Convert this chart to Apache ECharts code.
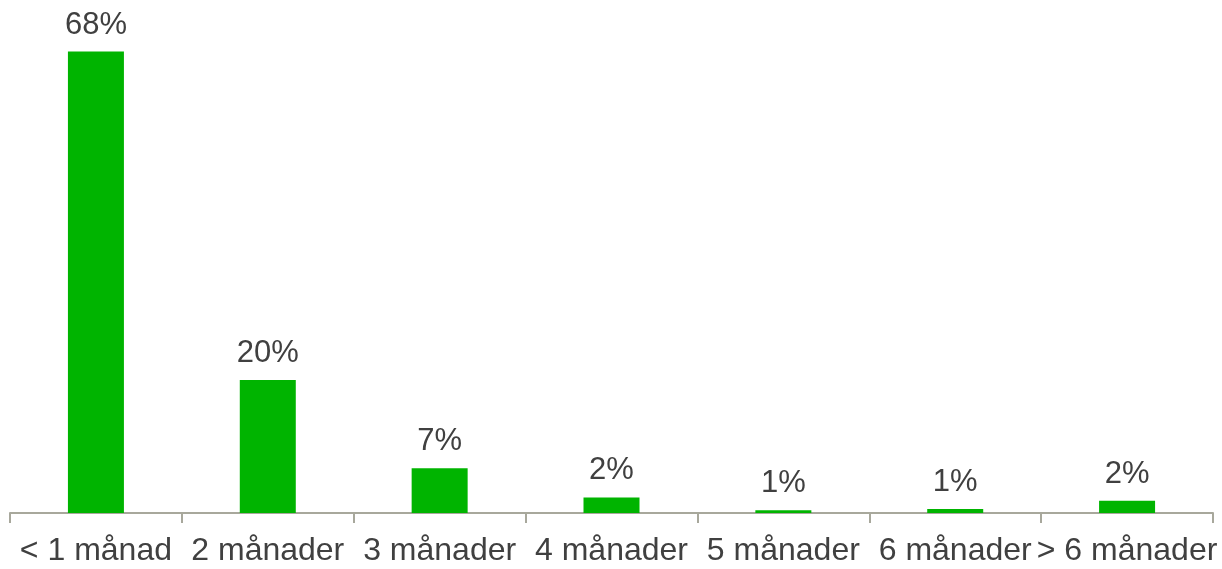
<!DOCTYPE html>
<html>
<head>
<meta charset="utf-8">
<script src="https://cdn.jsdelivr.net/npm/echarts@6/dist/echarts.min.js"></script>
<style>
  html, body { margin: 0; padding: 0; background: #fff; }
  #chart { width: 1222px; height: 569px; }
</style>
</head>
<body>
<div id="chart"></div>
<script>
// kategorier och värden (andel i procent)
const categories = ['< 1 månad', '2 månader', '3 månader', '4 månader', '5 månader', '6 månader', '> 6 månader']
const values = [68, 19.6, 6.6, 2.3, 0.4, 0.6, 1.8]
const valueLabels = ['68%', '20%', '7%', '2%', '1%', '1%', '2%']

const chart = echarts.init(document.getElementById('chart'))

chart.setOption({
  animation: false,
  grid: {
    top: 38,
    left: 10,
    right: 9,
    bottom: 56,
  },
  xAxis: {
    type: 'category',
    data: categories,
    axisLine: { lineStyle: { color: '#A8A89C', width: 2 } },
    axisTick: { show: true, length: 10, lineStyle: { color: '#A8A89C', width: 2 } },
    axisLabel: {
      color: '#404040',
      fontSize: 32,
      fontFamily: 'Liberation Sans',
      margin: 22,
      interval: 0,
    },
  },
  yAxis: {
    type: 'value',
    min: 0,
    max: 70,
    show: false,
    splitLine: { show: false },
  },
  series: [
    {
      type: 'bar',
      data: values,
      barWidth: 56,
      itemStyle: { color: '#00B400' },
      label: {
        show: true,
        position: 'top',
        distance: 11,
        color: '#404040',
        fontSize: 31,
        fontFamily: 'Liberation Sans',
        formatter: (p) => valueLabels[p.dataIndex],
      },
    },
  ],
})
</script>
</body>
</html>
